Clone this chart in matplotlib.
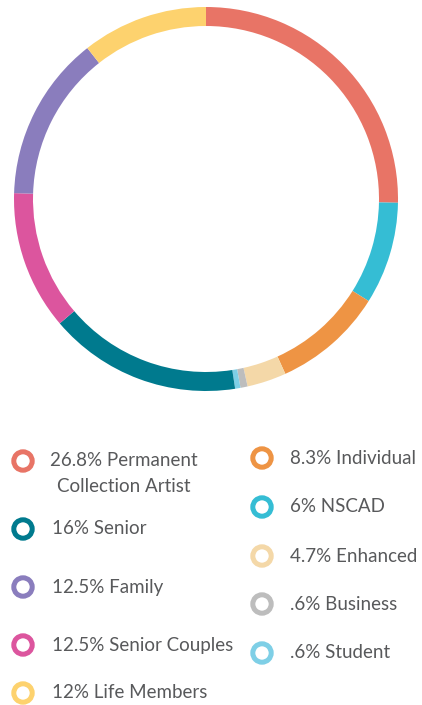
import matplotlib
matplotlib.use("Agg")
import matplotlib.pyplot as plt
from matplotlib.patches import Circle

# Ring segments (clockwise from 12 o'clock), shares read from the drawn ring
segments = ["Permanent Collection Artist", "NSCAD", "Individual", "Enhanced",
            "Business", "Student", "Senior", "Senior Couples", "Family", "Life Members"]
ring_share = [25.3, 8.6, 9.3, 3.3, 0.6, 0.45, 16.2, 11.7, 13.9, 10.6]
colors = {
    "Permanent Collection Artist": "#E87466",
    "NSCAD": "#35BDD4",
    "Individual": "#EE9444",
    "Enhanced": "#F4D8A8",
    "Business": "#BDBDBD",
    "Student": "#7ECFE6",
    "Senior": "#007A8E",
    "Senior Couples": "#DC559E",
    "Family": "#8A7DBD",
    "Life Members": "#FDD26E",
}

# Legend entries (text as printed)
left_keys = ["Permanent Collection Artist", "Senior", "Family", "Senior Couples", "Life Members"]
left_labels = ["26.8% Permanent\nCollection Artist", "16% Senior", "12.5% Family",
               "12.5% Senior Couples", "12% Life Members"]
right_keys = ["Individual", "NSCAD", "Enhanced", "Business", "Student"]
right_labels = ["8.3% Individual", "6% NSCAD", "4.7% Enhanced", ".6% Business", ".6% Student"]

W, H = 422, 705
fig = plt.figure(figsize=(W / 100, H / 100), dpi=100)
ax = fig.add_axes([0, 0, 1, 1])

R = 192
ax.pie(ring_share, colors=[colors[s] for s in segments], startangle=90,
       counterclock=False, radius=R, center=(206, H - 199),
       wedgeprops=dict(width=19, linewidth=0))

ax.set_xlim(0, W)
ax.set_ylim(0, H)
ax.set_aspect("equal")
ax.axis("off")

txt_color = "#58595B"
font = "Lato"
fs = 13.5

left_y = [461, 529, 587, 645, 693]
right_y = [458, 507, 556, 604, 653]

for key, lab, y in zip(left_keys, left_labels, left_y):
    ax.add_patch(Circle((23, H - y), 9.2, facecolor="white", edgecolor=colors[key], lw=3.6))
    lines = lab.split("\n")
    if len(lines) > 1:
        for i, line in enumerate(lines):
            ax.text(124, H - (y - 1 + 27 * i), line, ha="center", va="center",
                    fontsize=fs, family=font, color=txt_color)
    else:
        ax.text(52, H - y, lab, ha="left", va="center", fontsize=fs, family=font,
                color=txt_color)

for key, lab, y in zip(right_keys, right_labels, right_y):
    ax.add_patch(Circle((262, H - y), 9.2, facecolor="white", edgecolor=colors[key], lw=3.6))
    ax.text(290, H - y, lab, ha="left", va="center", fontsize=fs, family=font,
            color=txt_color)

fig.savefig("out.png", dpi=100, facecolor="white")
